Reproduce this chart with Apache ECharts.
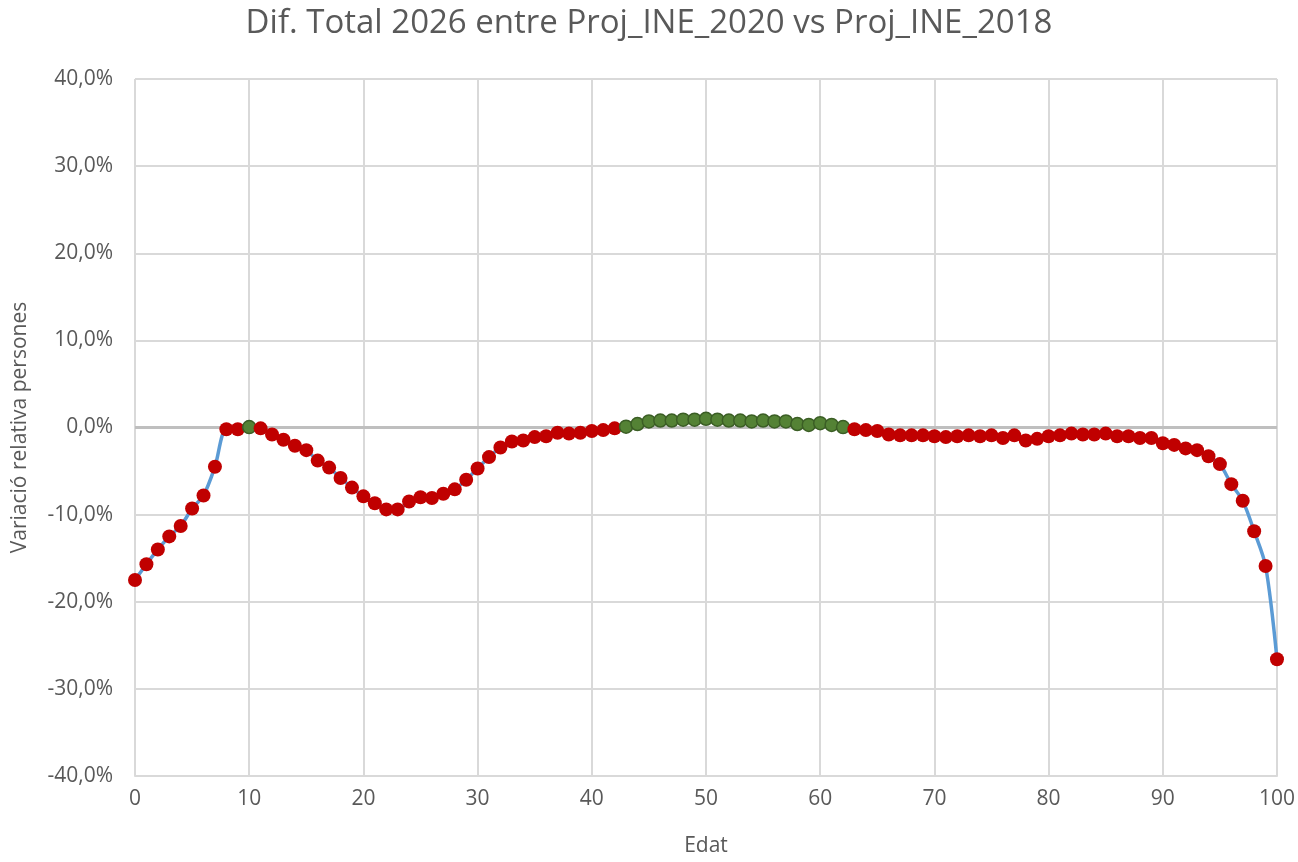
<!DOCTYPE html>
<html>
<head>
<meta charset="utf-8">
<script src="https://cdn.jsdelivr.net/npm/echarts@6/dist/echarts.min.js"></script>
<style>
  html, body { margin: 0; padding: 0; background: #fff; }
  #chart { width: 1298px; height: 862px; }
</style>
</head>
<body>
<div id="chart"></div>
<script>
// Edat 0..100
const edats = Array.from({ length: 101 }, (_, i) => i);
// variació relativa (%)
const variacio = [
  -17.5, -15.7, -14.0, -12.5, -11.3, -9.3, -7.8, -4.5, -0.2, -0.2,
  0.05, -0.1, -0.8, -1.4, -2.1, -2.6, -3.8, -4.6, -5.8, -6.9,
  -7.9, -8.7, -9.4, -9.4, -8.5, -8.0, -8.1, -7.6, -7.1, -6.0,
  -4.7, -3.4, -2.3, -1.6, -1.5, -1.1, -1.0, -0.6, -0.7, -0.6,
  -0.4, -0.3, -0.1, 0.1, 0.4, 0.7, 0.8, 0.8, 0.9, 0.9,
  1.0, 0.9, 0.8, 0.8, 0.7, 0.8, 0.7, 0.7, 0.4, 0.3,
  0.5, 0.3, 0.05, -0.2, -0.3, -0.4, -0.8, -0.9, -0.9, -0.9,
  -1.0, -1.1, -1.0, -0.9, -1.0, -0.9, -1.2, -0.9, -1.5, -1.3,
  -1.0, -0.9, -0.7, -0.8, -0.8, -0.7, -1.0, -1.0, -1.2, -1.2,
  -1.8, -2.0, -2.4, -2.6, -3.3, -4.2, -6.5, -8.4, -11.9, -15.9,
  -26.6
];
const yTicks = { min: -40, max: 40, interval: 10 };

const chart = echarts.init(document.getElementById('chart'));
const fmt = v => v.toFixed(1).replace('.', ',') + '%';
const font = 'Open Sans';

// punts: verd si positiu, vermell si negatiu
const punts = edats.map((e, i) => {
  const v = variacio[i];
  const pos = v >= 0;
  return {
    value: [e, v],
    symbolSize: pos ? 13 : 14,
    itemStyle: pos
      ? { color: '#548235', borderColor: '#3b5e25', borderWidth: 1.5 }
      : { color: '#c00000', borderColor: '#c00000', borderWidth: 0 }
  };
});

chart.setOption({
  animation: false,
  title: {
    text: 'Dif. Total 2026 entre Proj_INE_2020 vs Proj_INE_2018',
    left: 'center',
    top: 2,
    textStyle: { fontFamily: font, fontSize: 33, fontWeight: 'normal', color: '#595959' }
  },
  grid: { left: 135, right: 20, top: 79, bottom: 84 },
  xAxis: {
    type: 'value',
    min: 0, max: 100, interval: 10,
    name: 'Edat',
    nameLocation: 'middle',
    nameGap: 60,
    nameTextStyle: { fontFamily: font, fontSize: 21, color: '#595959' },
    axisLine: { show: true, onZero: false, lineStyle: { color: '#d9d9d9', width: 2 } },
    axisTick: { show: false },
    axisLabel: { fontFamily: font, fontSize: 21, color: '#595959', margin: 13 },
    splitLine: { show: true, lineStyle: { color: '#d9d9d9', width: 2 } }
  },
  yAxis: {
    type: 'value',
    min: yTicks.min, max: yTicks.max, interval: yTicks.interval,
    name: 'Variació relativa persones',
    nameLocation: 'middle',
    nameGap: 104,
    nameTextStyle: { fontFamily: font, fontSize: 21, color: '#595959' },
    axisLine: { show: false },
    axisTick: { show: false },
    axisLabel: { fontFamily: font, fontSize: 21, color: '#595959', margin: 22, formatter: fmt },
    splitLine: { show: true, lineStyle: { color: '#d9d9d9', width: 2 } }
  },
  series: [{
    type: 'line',
    data: punts,
    smooth: 0.3,
    symbol: 'circle',
    lineStyle: { color: '#5b9bd5', width: 3.5 },
    z: 3,
    markLine: {
      silent: true,
      symbol: 'none',
      label: { show: false },
      lineStyle: { color: '#bfbfbf', width: 3, type: 'solid' },
      data: [{ yAxis: 0 }],
      z: 1
    }
  }]
});
</script>
</body>
</html>
